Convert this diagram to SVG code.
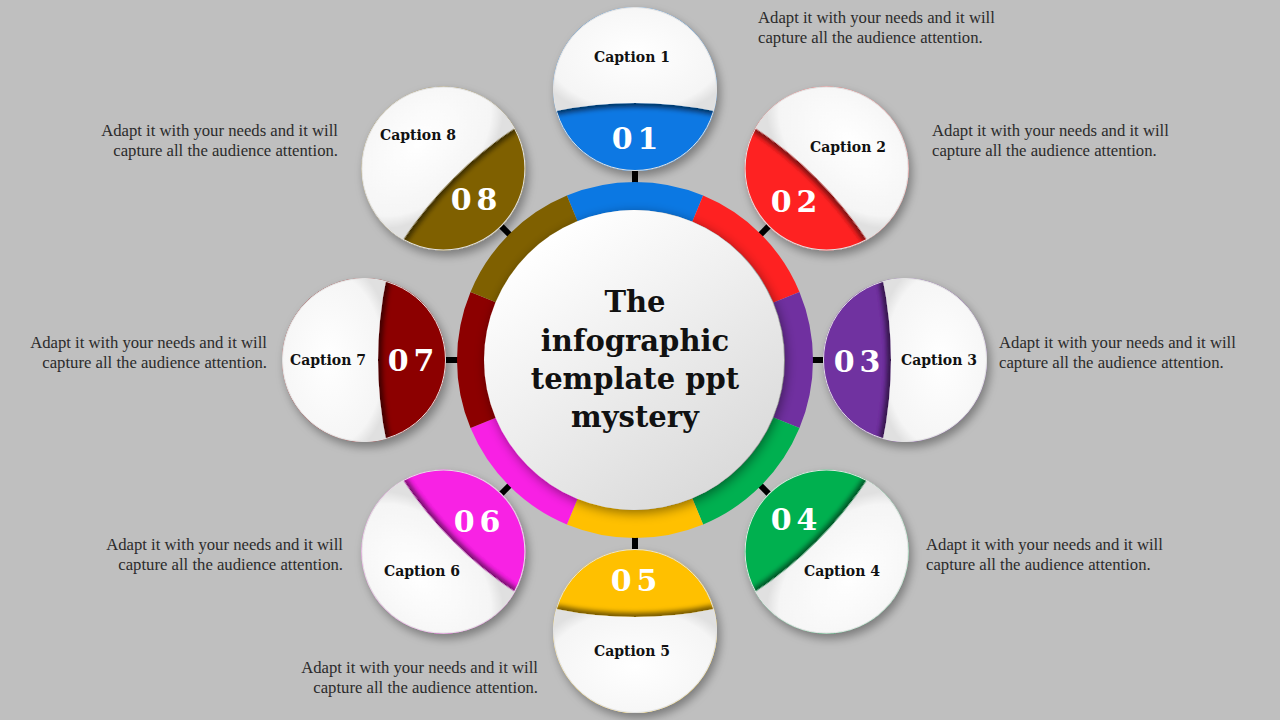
<svg xmlns="http://www.w3.org/2000/svg" width="1280" height="720" viewBox="0 0 1280 720">
<defs>
<style>
.cap{font-family:"DejaVu Serif","Liberation Serif",serif;font-weight:bold;font-size:14px;fill:#111;text-anchor:middle}
.num{font-family:"DejaVu Serif","Liberation Serif",serif;font-weight:bold;font-size:30px;fill:#fff;text-anchor:middle;letter-spacing:5px}
.desc{font-family:"Liberation Serif","DejaVu Serif",serif;font-size:16.7px;fill:#2b2b2b}
.title{font-family:"DejaVu Serif","Liberation Serif",serif;font-weight:bold;font-size:29px;fill:#111;text-anchor:middle}
.conn{stroke:#000;stroke-width:6}
</style>
<filter id="outerShadow" x="-30%" y="-30%" width="170%" height="170%">
<feDropShadow dx="3" dy="5" stdDeviation="5" flood-color="#000" flood-opacity="0.35"/>
</filter>
<filter id="capShadow" x="-30%" y="-30%" width="160%" height="160%">
<feDropShadow dx="0" dy="4" stdDeviation="2.5" flood-color="#000" flood-opacity="0.55"/>
</filter>
<filter id="centerShadow" x="-20%" y="-20%" width="140%" height="140%">
<feDropShadow dx="2" dy="3" stdDeviation="6" flood-color="#000" flood-opacity="0.45"/>
</filter>
<clipPath id="satClip"><circle r="82"/></clipPath>
<radialGradient id="capGrad" cx="0.5" cy="0.45" r="0.62">
<stop offset="0" stop-color="#ffffff"/>
<stop offset="0.85" stop-color="#f5f5f5"/>
<stop offset="1" stop-color="#e0e0e0"/>
</radialGradient>
<linearGradient id="centerGrad" x1="0.2" y1="0.1" x2="0.8" y2="0.95">
<stop offset="0" stop-color="#ffffff"/>
<stop offset="1" stop-color="#d9d9d9"/>
</linearGradient>
<path id="seg" d="M -68.12,-164.45 A 178 178 0 0 1 68.12,-164.45 L 57.40,-138.58 A 150 150 0 0 0 -57.40,-138.58 Z"/>
<path id="capPath" d="M -78.98,22 A 82 82 0 1 1 78.98,22 A 394 394 0 0 0 -78.98,22 Z"/>
</defs>
<rect width="1280" height="720" fill="#bfbfbf"/>

<g id="connectors">
<line class="conn" x1="635" y1="184" x2="635" y2="168"/>
<line class="conn" x1="759.5" y1="235.5" x2="770.8" y2="224.2"/>
<line class="conn" x1="811" y1="360" x2="827" y2="360"/>
<line class="conn" x1="759.5" y1="484.5" x2="770.8" y2="495.8"/>
<line class="conn" x1="635" y1="536" x2="635" y2="552"/>
<line class="conn" x1="510.5" y1="484.5" x2="499.2" y2="495.8"/>
<line class="conn" x1="459" y1="360" x2="443" y2="360"/>
<line class="conn" x1="510.5" y1="235.5" x2="499.2" y2="224.2"/>
</g>

<g id="ring" transform="translate(635,360)">
<use href="#seg" fill="#0b78e3"/>
<use href="#seg" fill="#fe2121" transform="rotate(45)"/>
<use href="#seg" fill="#7030a0" transform="rotate(90)"/>
<use href="#seg" fill="#00b050" transform="rotate(135)"/>
<use href="#seg" fill="#ffc000" transform="rotate(180)"/>
<use href="#seg" fill="#f820e4" transform="rotate(225)"/>
<use href="#seg" fill="#8c0000" transform="rotate(270)"/>
<use href="#seg" fill="#7f6000" transform="rotate(315)"/>
</g>

<g id="center">
<circle cx="634" cy="360" r="150" fill="url(#centerGrad)" filter="url(#centerShadow)"/>
<text class="title" x="635" y="312">The</text>
<text class="title" x="635" y="350.5">infographic</text>
<text class="title" x="635" y="389">template ppt</text>
<text class="title" x="635" y="427">mystery</text>
</g>

<g id="node1">
<g transform="translate(635,89)" filter="url(#outerShadow)">
<g transform="rotate(0)">
<circle r="82" fill="#0b78e3"/>
<g clip-path="url(#satClip)"><use href="#capPath" fill="url(#capGrad)" filter="url(#capShadow)"/></g>
<circle r="81.5" fill="none" stroke="#e2e2e2" stroke-width="1"/>
</g>
</g>
<text class="num" x="637.5" y="149">01</text>
<text class="cap" x="632" y="62">Caption 1</text>
<text class="desc" x="758" y="23">Adapt it with your needs and it will</text>
<text class="desc" x="758" y="43">capture all the audience attention.</text>
</g>

<g id="node2">
<g transform="translate(826.6,168.4)" filter="url(#outerShadow)">
<g transform="rotate(45)">
<circle r="82" fill="#fe2121"/>
<g clip-path="url(#satClip)"><use href="#capPath" fill="url(#capGrad)" filter="url(#capShadow)"/></g>
<circle r="81.5" fill="none" stroke="#e2e2e2" stroke-width="1"/>
</g>
</g>
<text class="num" x="796.5" y="212">02</text>
<text class="cap" x="848" y="152">Caption 2</text>
<text class="desc" x="932" y="136">Adapt it with your needs and it will</text>
<text class="desc" x="932" y="156">capture all the audience attention.</text>
</g>

<g id="node3">
<g transform="translate(905,360)" filter="url(#outerShadow)">
<g transform="rotate(90)">
<circle r="82" fill="#7030a0"/>
<g clip-path="url(#satClip)"><use href="#capPath" fill="url(#capGrad)" filter="url(#capShadow)"/></g>
<circle r="81.5" fill="none" stroke="#e2e2e2" stroke-width="1"/>
</g>
</g>
<text class="num" x="859.5" y="372">03</text>
<text class="cap" x="939" y="365">Caption 3</text>
<text class="desc" x="999" y="348">Adapt it with your needs and it will</text>
<text class="desc" x="999" y="368">capture all the audience attention.</text>
</g>

<g id="node4">
<g transform="translate(826.6,551.6)" filter="url(#outerShadow)">
<g transform="rotate(135)">
<circle r="82" fill="#00b050"/>
<g clip-path="url(#satClip)"><use href="#capPath" fill="url(#capGrad)" filter="url(#capShadow)"/></g>
<circle r="81.5" fill="none" stroke="#e2e2e2" stroke-width="1"/>
</g>
</g>
<text class="num" x="796.5" y="530">04</text>
<text class="cap" x="842" y="576">Caption 4</text>
<text class="desc" x="926" y="550">Adapt it with your needs and it will</text>
<text class="desc" x="926" y="570">capture all the audience attention.</text>
</g>

<g id="node5">
<g transform="translate(635,631)" filter="url(#outerShadow)">
<g transform="rotate(180)">
<circle r="82" fill="#ffc000"/>
<g clip-path="url(#satClip)"><use href="#capPath" fill="url(#capGrad)" filter="url(#capShadow)"/></g>
<circle r="81.5" fill="none" stroke="#e2e2e2" stroke-width="1"/>
</g>
</g>
<text class="num" x="636.5" y="591">05</text>
<text class="cap" x="632" y="656">Caption 5</text>
<text class="desc" x="538" y="673" text-anchor="end">Adapt it with your needs and it will</text>
<text class="desc" x="538" y="693" text-anchor="end">capture all the audience attention.</text>
</g>

<g id="node6">
<g transform="translate(443.4,551.6)" filter="url(#outerShadow)">
<g transform="rotate(225)">
<circle r="82" fill="#f820e4"/>
<g clip-path="url(#satClip)"><use href="#capPath" fill="url(#capGrad)" filter="url(#capShadow)"/></g>
<circle r="81.5" fill="none" stroke="#e2e2e2" stroke-width="1"/>
</g>
</g>
<text class="num" x="479.5" y="532">06</text>
<text class="cap" x="422" y="576">Caption 6</text>
<text class="desc" x="343" y="550" text-anchor="end">Adapt it with your needs and it will</text>
<text class="desc" x="343" y="570" text-anchor="end">capture all the audience attention.</text>
</g>

<g id="node7">
<g transform="translate(364,360)" filter="url(#outerShadow)">
<g transform="rotate(270)">
<circle r="82" fill="#8c0000"/>
<g clip-path="url(#satClip)"><use href="#capPath" fill="url(#capGrad)" filter="url(#capShadow)"/></g>
<circle r="81.5" fill="none" stroke="#e2e2e2" stroke-width="1"/>
</g>
</g>
<text class="num" x="413.5" y="371">07</text>
<text class="cap" x="328" y="365">Caption 7</text>
<text class="desc" x="267" y="348" text-anchor="end">Adapt it with your needs and it will</text>
<text class="desc" x="267" y="368" text-anchor="end">capture all the audience attention.</text>
</g>

<g id="node8">
<g transform="translate(443.4,168.4)" filter="url(#outerShadow)">
<g transform="rotate(315)">
<circle r="82" fill="#7f6000"/>
<g clip-path="url(#satClip)"><use href="#capPath" fill="url(#capGrad)" filter="url(#capShadow)"/></g>
<circle r="81.5" fill="none" stroke="#e2e2e2" stroke-width="1"/>
</g>
</g>
<text class="num" x="476.5" y="210">08</text>
<text class="cap" x="418" y="140">Caption 8</text>
<text class="desc" x="338" y="136" text-anchor="end">Adapt it with your needs and it will</text>
<text class="desc" x="338" y="156" text-anchor="end">capture all the audience attention.</text>
</g>
</svg>
